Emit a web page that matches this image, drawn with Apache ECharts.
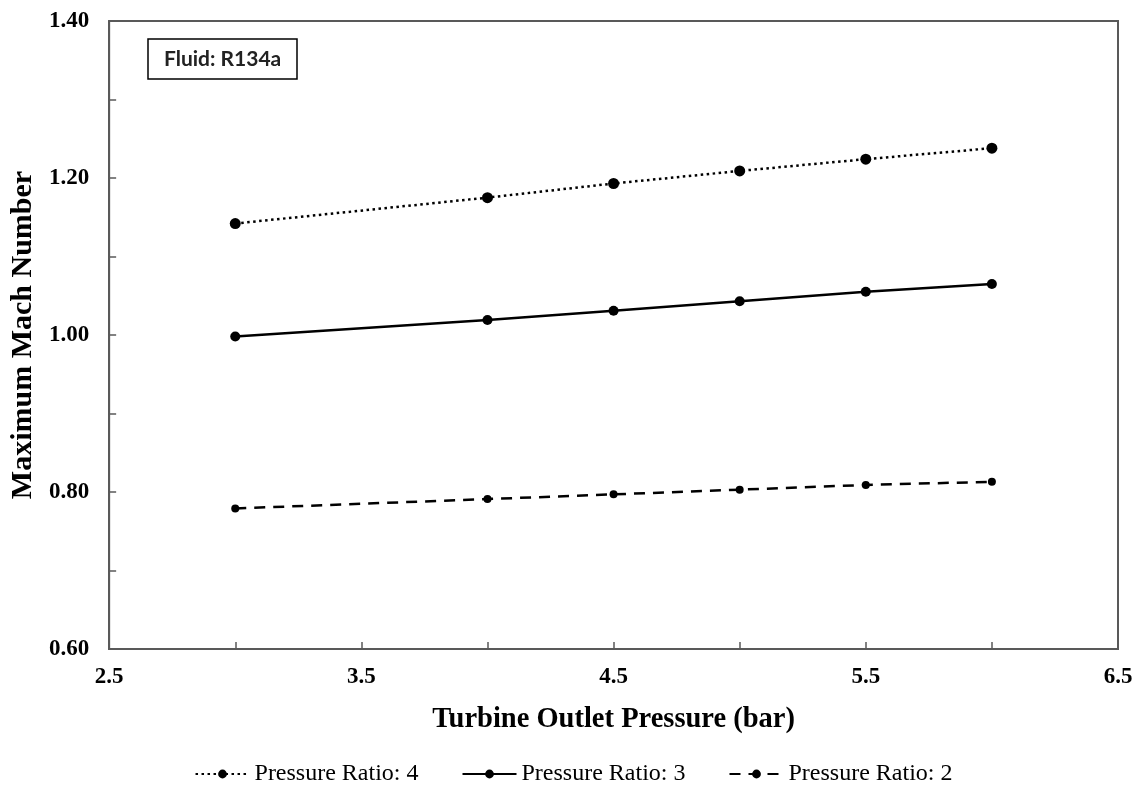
<!DOCTYPE html>
<html>
<head>
<meta charset="utf-8">
<script src="https://cdn.jsdelivr.net/npm/echarts@6/dist/echarts.min.js"></script>
<style>
html,body{margin:0;padding:0;background:#fff;}
#chart{width:1147px;height:790px;}
</style>
</head>
<body>
<div id="chart"></div>
<script>
const pressures = [3, 4, 4.5, 5, 5.5, 6];
const ratio4 = [1.142, 1.175, 1.193, 1.209, 1.224, 1.238];
const ratio3 = [0.998, 1.019, 1.031, 1.043, 1.055, 1.065];
const ratio2 = [0.779, 0.791, 0.797, 0.803, 0.809, 0.813];
const seriesNames = ['Pressure Ratio: 4', 'Pressure Ratio: 3', 'Pressure Ratio: 2'];
const xTitle = 'Turbine Outlet Pressure (bar)';
const yTitle = 'Maximum Mach Number';
const noteText = 'Fluid: R134a';

const pair = (ys) => pressures.map((x, i) => [x, ys[i]]);
const serif = '"Liberation Serif", "Times New Roman", serif';
const axisColor = '#595959';

const chart = echarts.init(document.getElementById('chart'), null, {renderer: 'canvas'});
chart.setOption({
  animation: false,
  backgroundColor: '#fff',
  title: {
    text: noteText,
    left: 148, top: 39,
    padding: [10, 16, 9, 16],
    borderColor: '#000', borderWidth: 1.5,
    textStyle: {fontFamily: 'Lato, "Open Sans", sans-serif', fontWeight: 'bold', fontSize: 21, color: '#222'}
  },
  grid: {
    left: 108, right: 29, top: 21, bottom: 141,
    show: true, borderColor: axisColor, borderWidth: 2, backgroundColor: 'transparent'
  },
  legend: {
    bottom: -1, left: 'center',
    itemWidth: 54, itemHeight: 11, itemGap: 43,
    textStyle: {fontFamily: serif, fontSize: 24, color: '#000', padding: [0, 0, 0, 0]},
    data: seriesNames
  },
  xAxis: {
    type: 'value', min: 2.5, max: 6.5, interval: 1,
    name: xTitle, nameLocation: 'middle', nameGap: 56,
    nameTextStyle: {fontFamily: serif, fontWeight: 'bold', fontSize: 28.5, color: '#000'},
    axisLine: {show: true, lineStyle: {color: axisColor, width: 2}},
    axisTick: {show: true, inside: true, length: 7, lineStyle: {color: axisColor, width: 1.5}},
    minorTick: {show: true, splitNumber: 2, length: 7, lineStyle: {color: axisColor, width: 1.5}},
    splitLine: {show: false},
    axisLabel: {fontFamily: serif, fontWeight: 'bold', fontSize: 23, color: '#000', margin: 17,
      formatter: v => v.toFixed(1)}
  },
  yAxis: {
    type: 'value', min: 0.6, max: 1.4, interval: 0.2,
    name: yTitle, nameLocation: 'middle', nameGap: 70, nameRotate: 90,
    nameTextStyle: {fontFamily: serif, fontWeight: 'bold', fontSize: 30, color: '#000'},
    axisLine: {show: true, lineStyle: {color: axisColor, width: 2}},
    axisTick: {show: true, inside: true, length: 7, lineStyle: {color: axisColor, width: 1.5}},
    minorTick: {show: true, splitNumber: 2, length: 7, lineStyle: {color: axisColor, width: 1.5}},
    splitLine: {show: false},
    axisLabel: {fontFamily: serif, fontWeight: 'bold', fontSize: 23, color: '#000', margin: 20,
      formatter: v => v.toFixed(2)}
  },
  series: [
    {
      name: seriesNames[0], type: 'line', data: pair(ratio4),
      symbol: 'circle', symbolSize: 11,
      lineStyle: {color: '#000', width: 2.5, type: [2.5, 3.5]},
      itemStyle: {color: '#000'}
    },
    {
      name: seriesNames[1], type: 'line', data: pair(ratio3),
      symbol: 'circle', symbolSize: 10,
      lineStyle: {color: '#000', width: 2.5, type: 'solid'},
      itemStyle: {color: '#000'}
    },
    {
      name: seriesNames[2], type: 'line', data: pair(ratio2),
      symbol: 'circle', symbolSize: 8,
      lineStyle: {color: '#000', width: 2.5, type: [11, 8]},
      itemStyle: {color: '#000'}
    }
  ]
});
</script>
</body>
</html>
